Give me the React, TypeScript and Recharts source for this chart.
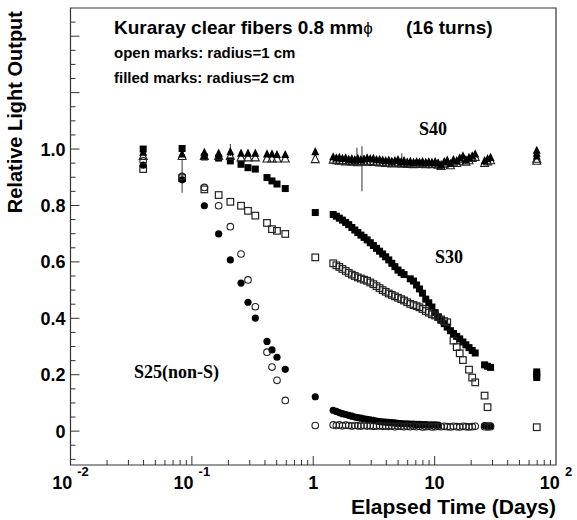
import React from 'react';
import { ScatterChart, Scatter, XAxis, YAxis, ReferenceArea, ErrorBar } from 'recharts';

// ---- Data ----
// Early, individually measured days
const earlyDays = [0.0397, 0.0831, 0.1267, 0.1662, 0.2074, 0.2541, 0.29, 0.3332, 0.4158, 0.457, 0.5027, 0.588, 1.039];
const s40r2Early = [0.988, 0.982, 0.988, 0.985, 0.99, 0.985, 0.985, 0.985, 0.982, 0.982, 0.98, 0.98, 0.99];
const s40r1Early = [0.975, 0.975, 0.975, 0.975, 0.975, 0.97, 0.97, 0.97, 0.966, 0.966, 0.966, 0.966, 0.964];
const s30r2Early = [1.0, 1.002, 0.972, 0.968, 0.958, 0.946, 0.934, 0.929, 0.899, 0.887, 0.876, 0.86, 0.775];
const s30r1Early = [0.929, 0.897, 0.857, 0.837, 0.813, 0.799, 0.781, 0.764, 0.738, 0.716, 0.71, 0.699, 0.616];
const s25r2Early = [0.943, 0.891, 0.799, 0.699, 0.607, 0.525, 0.457, 0.401, 0.318, 0.288, 0.262, 0.219, 0.122];
const s25r1Early = [0.958, 0.903, 0.864, 0.799, 0.725, 0.628, 0.536, 0.441, 0.28, 0.227, 0.18, 0.109, 0.02];

// Continuous monitoring period
const denseDays = [1.46, 1.55, 1.64, 1.74, 1.85, 1.96, 2.08, 2.2, 2.33, 2.47, 2.62, 2.78, 2.95, 3.13, 3.32, 3.52, 3.73, 3.95, 4.19, 4.44, 4.71, 4.99, 5.3, 5.6, 5.95, 6.3, 6.7, 7.1, 7.5, 7.95, 8.45, 8.95, 9.5, 10.1, 10.7, 11.3, 12.0, 12.7, 13.5, 14.3, 15.2, 16.1, 17.1, 18.1, 19.2, 20.4, 21.6, 22.9, 24.3, 25.8, 27.3, 28.9];
const s40r2Dense = [0.972, 0.968, 0.97, 0.966, 0.968, 0.962, 0.965, 0.96, 0.966, 0.962, 0.964, 0.968, 0.965, 0.966, 0.962, 0.963, 0.96, 0.958, 0.96, 0.956, 0.958, 0.962, 0.955, 0.958, 0.953, 0.956, 0.952, 0.955, 0.953, 0.955, 0.952, 0.954, 0.952, 0.955, 0.95, 0.943, 0.955, 0.96, 0.948, 0.962, 0.958, 0.968, 0.975, 0.962, 0.97, 0.975, 0.982, null, null, 0.958, 0.965, 0.97];
const s40r1Dense = [0.962, 0.96, 0.958, 0.96, 0.956, 0.958, 0.955, 0.957, 0.953, 0.956, 0.958, 0.955, 0.957, 0.954, 0.955, 0.952, 0.953, 0.95, 0.952, 0.949, 0.951, 0.953, 0.948, 0.95, 0.947, 0.949, 0.946, 0.948, 0.947, 0.949, 0.946, 0.948, 0.946, 0.948, 0.944, 0.94, 0.948, 0.952, 0.942, 0.955, 0.95, 0.958, 0.965, 0.955, 0.96, 0.968, 0.972, null, null, 0.95, 0.956, 0.96];
const s30r2Dense = [0.768, 0.762, 0.755, 0.748, 0.74, 0.732, 0.722, 0.713, 0.704, 0.695, 0.687, 0.678, 0.668, 0.658, 0.648, 0.638, 0.628, 0.618, 0.607, 0.595, 0.583, 0.571, 0.562, 0.555, null, 0.54, 0.532, 0.518, 0.504, 0.489, 0.468, 0.455, 0.44, 0.42, 0.404, 0.393, 0.381, 0.369, 0.356, 0.346, 0.336, 0.327, 0.316, 0.306, 0.296, 0.286, 0.277, null, null, 0.235, 0.23, 0.226];
const s30r1Dense = [0.595, 0.588, 0.582, 0.575, 0.568, 0.561, 0.555, 0.55, 0.545, 0.541, 0.537, 0.533, 0.527, 0.521, 0.514, 0.507, 0.5, 0.494, 0.488, 0.483, 0.478, 0.473, 0.468, 0.463, 0.457, 0.451, 0.447, 0.443, 0.439, 0.433, 0.426, 0.42, 0.414, 0.41, 0.404, 0.396, 0.39, 0.386, null, 0.321, 0.298, 0.276, 0.252, null, 0.218, 0.19, 0.173, null, null, 0.126, 0.085, null];
const s25r2Dense = [0.074, 0.07, 0.066, 0.062, 0.059, 0.056, 0.053, 0.05, 0.048, 0.046, 0.044, 0.042, 0.04, 0.038, 0.036, 0.034, 0.033, 0.032, 0.031, 0.03, 0.029, 0.028, 0.027, 0.026, 0.026, 0.025, 0.025, 0.024, 0.024, 0.023, 0.023, 0.022, 0.022, 0.022, 0.021, null, null, null, null, null, null, null, null, null, null, null, null, null, null, 0.02, 0.019, 0.019];
const s25r1Dense = [0.022, 0.02, 0.022, 0.019, 0.021, 0.02, 0.018, 0.02, 0.019, 0.018, 0.02, 0.018, 0.019, 0.017, 0.018, 0.019, 0.017, 0.018, 0.017, 0.018, 0.016, 0.018, 0.017, 0.016, 0.017, 0.016, 0.018, 0.016, 0.017, 0.015, 0.016, 0.017, 0.015, 0.016, 0.017, 0.016, 0.017, 0.016, 0.015, 0.017, 0.016, 0.015, 0.017, 0.016, 0.015, 0.016, 0.017, null, null, 0.016, 0.015, 0.016];

// Final measurement (~70 days)
const lateDay = 69.4;
const s40r2Late = [0.995, 0.985, 0.975];
const s40r1Late = [0.965, 0.958];
const s30r2Late = [0.21, 0.2, 0.19];
const s30r1Late = [0.014];

// Error bars: day, value, [lower, upper]
const errDays = [0.0831, 0.2074, 2.29, 2.52, 5.37];
const errValues = [0.891, 0.99, 0.97, 0.96, 0.955];
const errRanges = [[0.046, 0.074], [0.015, 0.028], [0.0, 0.035], [0.11, 0.05], [0.0, 0.03]];

// Axis ticks
const xMajorTicks = [0.01, 0.1, 1, 10, 100];
const yLabelTicks = [0, 0.2, 0.4, 0.6, 0.8, 1.0];

// ---- helpers ----
const build = (early: (number | null)[] | null, dense: (number | null)[] | null, late: number[] | null) => {
  const out: { x: number; y: number }[] = [];
  if (early) early.forEach((v, i) => { if (v != null) out.push({ x: earlyDays[i], y: v }); });
  if (dense) dense.forEach((v, i) => { if (v != null) out.push({ x: denseDays[i], y: v }); });
  if (late) late.forEach((v) => out.push({ x: lateDay, y: v }));
  return out;
};

const s40r2 = build(s40r2Early, s40r2Dense, s40r2Late);
const s40r1 = build(s40r1Early, s40r1Dense, s40r1Late);
const s30r2 = build(s30r2Early, s30r2Dense, s30r2Late);
const s30r1 = build(s30r1Early, s30r1Dense, s30r1Late);
const s25r2 = build(s25r2Early, s25r2Dense, null);
const s25r1 = build(s25r1Early, s25r1Dense, null);
const errData = errDays.map((d, i) => ({ x: d, y: errValues[i], err: errRanges[i] }));

const xTicks: number[] = [];
for (let d = -2; d < 2; d++) {
  for (let k = 1; k <= 9; k++) xTicks.push(+(k * Math.pow(10, d)).toPrecision(3));
}
xTicks.push(100);

const yTicks: number[] = [];
for (let i = -2; i <= 29; i++) yTicks.push(+(i * 0.05).toFixed(2));

const SANS = '"Liberation Sans", Arial, Helvetica, sans-serif';
const SERIF = '"Liberation Serif", "Times New Roman", serif';
const FRAME = '#333';

// ---- markers ----
const FilledSquare = (p: any) => <rect x={p.cx - 3.5} y={p.cy - 3.5} width={7} height={7} fill="#000" />;
const OpenSquare = (p: any) => <rect x={p.cx - 3.3} y={p.cy - 3.3} width={6.6} height={6.6} fill="none" stroke="#222" strokeWidth={1.2} />;
const FilledCircle = (p: any) => <circle cx={p.cx} cy={p.cy} r={3.6} fill="#000" />;
const OpenCircle = (p: any) => <circle cx={p.cx} cy={p.cy} r={3.3} fill="none" stroke="#222" strokeWidth={1.1} />;
const triPts = (cx: number, cy: number) => `${cx},${cy - 4.8} ${cx - 4},${cy + 3.4} ${cx + 4},${cy + 3.4}`;
const FilledTriangle = (p: any) => <polygon points={triPts(p.cx, p.cy)} fill="#000" />;
const OpenTriangle = (p: any) => <polygon points={triPts(p.cx, p.cy)} fill="none" stroke="#222" strokeWidth={1.1} />;
const NoShape = () => <g />;

// ---- ticks ----
const isDecade = (v: number) => Math.abs(Math.log10(v) - Math.round(Math.log10(v))) < 1e-6;

const XTick = (props: any) => {
  const { x, y, payload } = props;
  const v = payload.value as number;
  const major = isDecade(v);
  const len = major ? 9 : 5;
  const e = Math.round(Math.log10(v));
  let label: React.ReactNode = null;
  if (major && xMajorTicks.includes(v)) {
    if (e === 0) label = <tspan>1</tspan>;
    else if (e === 1) label = <tspan>10</tspan>;
    else label = (
      <>
        <tspan>10</tspan>
        <tspan dx={5} dy={-13} fontSize={13}>{String(e)}</tspan>
      </>
    );
  }
  return (
    <g>
      {v < 100 && v > 0.01 ? <line x1={x} y1={y} x2={x} y2={y - len} stroke={FRAME} strokeWidth={1} /> : null}
      {label ? (
        <text x={x} y={y + 24} textAnchor="middle" fontFamily={SANS} fontWeight="bold" fontSize={18} fill="#000">{label}</text>
      ) : null}
    </g>
  );
};

const YTick = (props: any) => {
  const { x, y, payload } = props;
  const v = payload.value as number;
  const idx = Math.round(v / 0.05);
  const major = idx % 4 === 0;
  const len = major ? 9 : 5;
  const showLabel = yLabelTicks.some((t) => Math.abs(t - v) < 1e-6);
  return (
    <g>
      <line x1={x} y1={y} x2={x + len} y2={y} stroke={FRAME} strokeWidth={1} />
      {showLabel ? (
        <text x={x - 5} y={y} dy="0.36em" textAnchor="end" fontFamily={SANS} fontWeight="bold" fontSize={18} fill="#000">
          {v === 0 ? '0' : v.toFixed(1)}
        </text>
      ) : null}
    </g>
  );
};

export default function App() {
  return (
    <div style={{ position: 'absolute', left: 0, top: 0, width: 577, height: 520, background: '#fff' }}>
      <ScatterChart width={577} height={520} margin={{ top: 8, right: 21, bottom: 0, left: 0 }}>
        <XAxis
          type="number"
          dataKey="x"
          scale="log"
          domain={[0.01, 100]}
          ticks={xTicks}
          interval={0}
          tick={<XTick />}
          tickLine={false}
          axisLine={false}
          tickSize={0}
          tickMargin={0}
          height={55}
          allowDataOverflow
        />
        <YAxis
          type="number"
          dataKey="y"
          domain={[-0.12, 1.5]}
          ticks={yTicks}
          interval={0}
          tick={<YTick />}
          tickLine={false}
          axisLine={false}
          tickSize={0}
          tickMargin={0}
          width={70.5}
          allowDataOverflow
        />
        <ReferenceArea x1={0.01} x2={100} y1={-0.12} y2={1.5} fill="none" stroke={FRAME} strokeWidth={1.2} ifOverflow="visible" />
        <Scatter data={errData} shape={NoShape} isAnimationActive={false}>
          <ErrorBar dataKey="err" direction="y" width={0} stroke="#333" strokeWidth={1} />
        </Scatter>
        <Scatter data={s30r2} shape={FilledSquare} isAnimationActive={false} />
        <Scatter data={s30r1} shape={OpenSquare} isAnimationActive={false} />
        <Scatter data={s25r2} shape={FilledCircle} isAnimationActive={false} />
        <Scatter data={s25r1} shape={OpenCircle} isAnimationActive={false} />
        <Scatter data={s40r1} shape={OpenTriangle} isAnimationActive={false} />
        <Scatter data={s40r2} shape={FilledTriangle} isAnimationActive={false} />
      </ScatterChart>
      <svg width={577} height={520} style={{ position: 'absolute', left: 0, top: 0, pointerEvents: 'none' }}>
        <text x={114} y={34} fontFamily={SANS} fontWeight="bold" fontSize={19} fill="#000">
          Kuraray clear fibers 0.8 mm<tspan fontWeight="normal" fontSize={17}>ϕ</tspan>
        </text>
        <text x={406} y={34} fontFamily={SANS} fontWeight="bold" fontSize={19} fill="#000">(16 turns)</text>
        <text x={114} y={58} fontFamily={SANS} fontWeight="bold" fontSize={15} fill="#000">open marks: radius=1 cm</text>
        <text x={114} y={83} fontFamily={SANS} fontWeight="bold" fontSize={15} fill="#000">filled marks: radius=2 cm</text>
        <text x={433} y={135} textAnchor="middle" fontFamily={SERIF} fontWeight="bold" fontSize={18} fill="#000">S40</text>
        <text x={449} y={263} textAnchor="middle" fontFamily={SERIF} fontWeight="bold" fontSize={18} fill="#000">S30</text>
        <text x={134} y={378} fontFamily={SERIF} fontWeight="bold" fontSize={18} fill="#000">S25(non-S)</text>
        <text x={556} y={514} textAnchor="end" fontFamily={SANS} fontWeight="bold" fontSize={21} fill="#000">Elapsed Time (Days)</text>
        <text transform="translate(22,11) rotate(-90)" textAnchor="end" fontFamily={SANS} fontWeight="bold" fontSize={20} fill="#000">Relative Light Output</text>
      </svg>
    </div>
  );
}
